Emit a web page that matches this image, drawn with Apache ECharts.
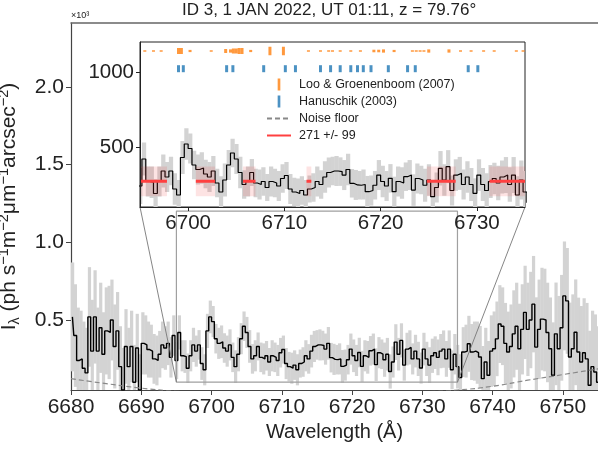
<!DOCTYPE html>
<html>
<head>
<meta charset="utf-8">
<script src="https://cdn.jsdelivr.net/npm/echarts@6/dist/echarts.min.js"></script>
<style>
  html, body { margin: 0; padding: 0; background: #fff; }
  #main { width: 598px; height: 450px; }
</style>
</head>
<body>
<div id="main"></div>
<script>
// spectrum, bin centres start at 6680.2 A, 0.4 A apart
var wlStart = 6680.2, wlStep = 0.4;
var flux = [
  520, 400, 240, 250, 190, 160, 520, 300, 520, 300,
  450, 280, 430, 420, 500, 330, 430, 200, 50, 330,
  200, 330, 100, 320, 50, 350, 340, 310, 300, 250,
  240, 280, 340, 320, 350, 260, 400, 240,
  420, 270, 265, 190, 270, 340, 300, 340, 220, 180,
  430, 520, 490, 380, 350, 360, 320, 300, 340, 260,
  200, 280, 380, 460, 420, 330, 250, 270, 330, 260,
  250, 270, 230, 270, 260, 240, 290, 310, 220, 200,
  190, 210, 180, 220, 230, 270, 250, 300, 330, 340,
  340, 336, 313, 350, 258, 247, 245, 250, 202, 210,
  245, 313, 270, 240, 291, 202, 270, 260, 302, 313,
  213, 290, 280, 245, 280, 169, 230, 358, 280, 369,
  210, 313, 324, 250, 300, 250, 191, 313, 250, 210,
  270, 290, 260, 300, 313, 250, 313, 180, 280, 200, 130,
  294, 300, 347, 294, 300, 290, 262, 123, 230, 145,
  300, 315, 379, 474, 460, 350, 294, 330, 411, 460,
  315, 440, 549, 440, 500, 602, 326, 440, 506, 500,
  420, 315, 145, 411, 315, 450, 655, 623, 262, 315,
  421, 294, 230, 290, 250, 81, 200, 166, 100
];
var fluxErr = [
  350, 330, 340, 310, 300, 290, 320, 330, 300, 280,
  290, 270, 280, 300, 260, 270, 250, 260, 270, 240,
  250, 230, 240, 220, 230, 200, 190, 180, 170, 160,
  160, 150, 150, 140, 140, 130, 130, 120,
  110, 100, 105, 95, 100, 110, 100, 95, 105, 100,
  110, 105, 100, 95, 100, 105, 95, 100, 100, 95,
  105, 110, 100, 95, 100, 105, 95, 100, 90, 95,
  100, 95, 90, 100, 95, 100, 95, 90, 100, 95,
  100, 95, 100, 90, 95, 100, 95, 105, 100, 95,
  100, 95, 100, 105, 95, 100, 95, 100, 105, 100,
  95, 100, 105, 100, 95, 100, 100, 105, 95, 100,
  105, 100, 95, 110, 105, 110, 100, 115, 105, 110,
  100, 105, 110, 100, 105, 110, 100, 105, 110, 115,
  110, 105, 115, 110, 120, 115, 120, 125, 130, 140, 150,
  160, 170, 180, 180, 190, 200, 200, 210, 220, 220,
  230, 240, 240, 250, 250, 260, 260, 270, 280, 280,
  290, 290, 300, 300, 310, 310, 320, 320, 330, 330,
  320, 330, 340, 330, 340, 340, 350, 340, 350, 350,
  340, 350, 360, 350, 360, 350, 360, 370, 360
];

// noise floor
var noiseWl  = [6680, 6685, 6690, 6695, 6700, 6710, 6720, 6730, 6735, 6740, 6745, 6750, 6755];
var noiseVal = [123, 91, 62, 42, 32, 22, 25, 38, 50, 74, 113, 149, 186];

// continuum windows, 271 +/- 99
var contLevel = 271, contErr = 99;
var contLo = [6695.0, 6700.8, 6705.7, 6712.3, 6724.8, 6731.3];
var contHi = [6697.8, 6702.8, 6707.0, 6712.8, 6727.8, 6735.0];

// line lists
var looWl = [6695.5, 6696.4, 6697.2, 6699.0, 6699.3, 6700.2, 6702.4, 6703.9, 6704.4, 6704.7,
  6705.0, 6705.3, 6705.6, 6706.5, 6708.5, 6709.9, 6712.5, 6713.75, 6714.6, 6715.0,
  6715.8, 6716.9, 6717.9, 6719.3, 6719.8, 6720.3, 6721.4, 6723.3, 6723.7, 6724.1,
  6724.5, 6725.0, 6727.1, 6728.3, 6729.4, 6730.7, 6731.8, 6734.1, 6734.8];
var looStrength = [0, 0, 0, 0.65, 0.65, 0.1, 0, 0.35, 0.25, 0.5,
  0.5, 0.65, 0.65, 0.1, 1, 1, 0, 0, 0, 0,
  0, 0, 0, 0.15, 0.15, 0.25, 0.1, 0, 0, 0,
  0, 0.25, 0.25, 0, 0, 0, 0, 0, 0];
var hanWl = [6699.0, 6699.5, 6704.0, 6704.65, 6707.85, 6710.1, 6711.15, 6713.75, 6714.8, 6715.8,
  6716.9, 6717.6, 6718.2, 6719.0, 6720.8, 6722.8, 6723.6, 6729.1, 6730.1];

var mainXTicks = [6680, 6690, 6700, 6710, 6720, 6730, 6740, 6750];
var mainYTicks = [500, 1000, 1500, 2000];
var insetXTicks = [6700, 6710, 6720, 6730];
var insetYTicks = [500, 1000];
var insetX = [6695, 6735], insetY = [100, 1200];

var wl = flux.map(function (_, i) { return +(wlStart + i * wlStep).toFixed(2); });
var lineData = flux.map(function (v, i) { return [wl[i], v]; });
var bandData = flux.map(function (v, i) { return [wl[i], v - fluxErr[i], v + fluxErr[i]]; });
var noiseData = noiseWl.map(function (w, i) { return [w, noiseVal[i]]; });
var contData = [], contAreas = [];
contLo.forEach(function (a, i) {
  contData.push([a, contLevel], [contHi[i], contLevel], [contHi[i], '-']);
  contAreas.push([{ xAxis: a, yAxis: contLevel - contErr }, { xAxis: contHi[i], yAxis: contLevel + contErr }]);
});
var looData = looWl.map(function (w, i) { return [w, 1140, looStrength[i]]; });
var hanData = hanWl.map(function (w) { return [w, 1022]; });
var boxData = [[insetX[0], insetY[0]], [insetX[1], insetY[0]], [insetX[1], insetY[1]],
  [insetX[0], insetY[1]], [insetX[0], insetY[0]]];

function bandItem(params, api) {
  var x = api.value(0);
  var p0 = api.coord([x - wlStep / 2, api.value(2)]);
  var p1 = api.coord([x + wlStep / 2, api.value(1)]);
  var cs = params.coordSys;
  var r = echarts.graphic.clipRectByRect(
    { x: p0[0], y: p0[1], width: p1[0] - p0[0] + 0.4, height: p1[1] - p0[1] },
    { x: cs.x, y: cs.y, width: cs.width, height: cs.height });
  return r && { type: 'rect', shape: r, style: { fill: '#d3d3d3' } };
}
function plain(v) { return String(v); }

var font = 'Liberation Sans';
var ink = '#222';
var chart = echarts.init(document.getElementById('main'));

chart.setOption({
  animation: false,
  textStyle: { fontFamily: font },
  title: [
    { text: 'ID 3, 1 JAN 2022, UT 01:11, z = 79.76°', left: 182, top: 2, padding: 0,
      textStyle: { fontSize: 17, fontWeight: 'normal', color: ink, fontFamily: font } },
    { text: '×10³', left: 71, top: 11, padding: 0,
      textStyle: { fontSize: 9, fontWeight: 'normal', color: ink, fontFamily: font } }
  ],
  grid: [
    { left: 71, top: 23, right: 0, bottom: 60, outerBoundsMode: 'none', containLabel: false },
    { left: 140, top: 42, width: 385, height: 165, show: true, z: 10,
      outerBoundsMode: 'none', containLabel: false,
      backgroundColor: '#fff', borderColor: '#222', borderWidth: 1 }
  ],
  legend: {
    data: [
      { name: 'Loo & Groenenboom (2007)', icon: 'path://M0,0h2v9h-2z' },
      { name: 'Hanuschik (2003)', icon: 'path://M0,0h2v9h-2z' },
      { name: 'Noise floor', itemStyle: { opacity: 0 } },
      { name: '271 +/- 99', itemStyle: { opacity: 0 } }
    ],
    orient: 'vertical', left: 266, top: 78, itemWidth: 24, itemHeight: 12, itemGap: 4,
    selectedMode: false, z: 30, padding: 0,
    textStyle: { fontSize: 12.5, color: ink, padding: [0, 0, 0, 3] }
  },
  xAxis: [
    { type: 'value', gridIndex: 0, min: 6680, max: 6755,
      axisLine: { lineStyle: { color: '#444', width: 1.2 } },
      axisTick: { customValues: mainXTicks, length: 5, lineStyle: { color: '#444' } },
      axisLabel: { customValues: mainXTicks, fontSize: 21, color: ink, margin: 7, formatter: plain },
      splitLine: { show: false },
      name: 'Wavelength (Å)', nameLocation: 'middle', nameGap: 32,
      nameTextStyle: { fontSize: 20, color: ink } },
    { type: 'value', gridIndex: 0, position: 'top', min: 6680, max: 6755,
      axisLine: { lineStyle: { color: '#666', width: 1.5 } },
      axisTick: { show: false }, axisLabel: { show: false }, splitLine: { show: false } },
    { type: 'value', gridIndex: 1, min: insetX[0], max: insetX[1], z: 15,
      axisLine: { lineStyle: { color: '#222', width: 1 } },
      axisTick: { customValues: insetXTicks, length: 4, lineStyle: { color: '#222' } },
      axisLabel: { customValues: insetXTicks, fontSize: 20.5, color: ink, margin: 6, formatter: plain },
      splitLine: { show: false } }
  ],
  yAxis: [
    { type: 'value', gridIndex: 0, min: 50, max: 2410,
      axisLine: { show: true, lineStyle: { color: '#444', width: 1.2 } },
      axisTick: { show: true, customValues: mainYTicks, length: 5, lineStyle: { color: '#444' } },
      axisLabel: { customValues: mainYTicks, fontSize: 21, color: ink, margin: 7,
        formatter: function (v) { return (v / 1000).toFixed(1); } },
      splitLine: { show: false },
      name: '{t|I}{s|λ}{t| (ph s}{p|−1}{t|m}{p|−2}{t|μm}{p|−1}{t|arcsec}{p|−2}{t|)}',
      nameLocation: 'middle', nameGap: 49, nameRotate: 90,
      nameTextStyle: { color: ink, rich: {
        t: { fontSize: 21, lineHeight: 26, color: ink, fontFamily: font },
        s: { fontSize: 14.5, lineHeight: 14, verticalAlign: 'bottom', color: ink, fontFamily: font },
        p: { fontSize: 14.5, lineHeight: 14, verticalAlign: 'top', color: ink, fontFamily: font }
      } } },
    { type: 'value', gridIndex: 1, min: insetY[0], max: insetY[1], z: 15,
      axisLine: { show: true, lineStyle: { color: '#222', width: 1 } },
      axisTick: { show: true, customValues: insetYTicks, length: 4, lineStyle: { color: '#222' } },
      axisLabel: { customValues: insetYTicks, fontSize: 20.5, color: ink, margin: 6, formatter: plain },
      splitLine: { show: false } }
  ],
  series: [
    { type: 'custom', xAxisIndex: 0, yAxisIndex: 0, z: 2, silent: true,
      renderItem: bandItem, data: bandData, encode: { x: 0, y: [1, 2] } },
    { type: 'line', xAxisIndex: 0, yAxisIndex: 0, z: 3, step: 'middle', symbol: 'none',
      data: lineData, lineStyle: { color: '#000', width: 1.4 } },
    { type: 'line', name: 'Noise floor', xAxisIndex: 0, yAxisIndex: 0, z: 4, smooth: true,
      symbol: 'none', data: noiseData, itemStyle: { color: '#888' },
      lineStyle: { color: '#888', width: 1.2, type: [5, 3] } },
    { type: 'line', xAxisIndex: 0, yAxisIndex: 0, z: 5, symbol: 'none', silent: true,
      data: boxData, lineStyle: { color: '#a0a0a0', width: 1.2 } },

    { type: 'custom', xAxisIndex: 2, yAxisIndex: 1, z: 11, silent: true,
      renderItem: bandItem, data: bandData, encode: { x: 0, y: [1, 2] } },
    { type: 'line', xAxisIndex: 2, yAxisIndex: 1, z: 12, step: 'middle', symbol: 'none',
      data: lineData, lineStyle: { color: '#000', width: 1.2 } },
    { type: 'line', name: '271 +/- 99', xAxisIndex: 2, yAxisIndex: 1, z: 13, symbol: 'none',
      data: contData, itemStyle: { color: '#ff4040' },
      lineStyle: { color: '#ff4040', width: 3 },
      markArea: { silent: true, z: 13, itemStyle: { color: 'rgba(240,60,60,0.14)' }, data: contAreas } },
    { type: 'scatter', name: 'Loo & Groenenboom (2007)', xAxisIndex: 2, yAxisIndex: 1, z: 14,
      symbol: 'rect', data: looData, itemStyle: { color: '#ff7f0e' },
      symbolSize: function (v) { return [3, 1.5 + 7 * v[2]]; } },
    { type: 'scatter', name: 'Hanuschik (2003)', xAxisIndex: 2, yAxisIndex: 1, z: 14,
      symbol: 'rect', data: hanData, itemStyle: { color: '#1f77b4' }, symbolSize: [3, 7] }
  ]
});

// connector lines from the inset's lower corners to the zoom box in the main axes
function connector(x) {
  var a = chart.convertToPixel({ gridIndex: 1 }, [x, insetY[0]]);
  var b = chart.convertToPixel({ gridIndex: 0 }, [x, insetY[0]]);
  return { type: 'line', z: 6, silent: true, shape: { x1: a[0], y1: a[1], x2: b[0], y2: b[1] },
    style: { stroke: '#777', lineWidth: 0.9 } };
}
chart.setOption({ graphic: [connector(insetX[0]), connector(insetX[1])] });
window.onresize = chart.resize;
</script>
</body>
</html>
